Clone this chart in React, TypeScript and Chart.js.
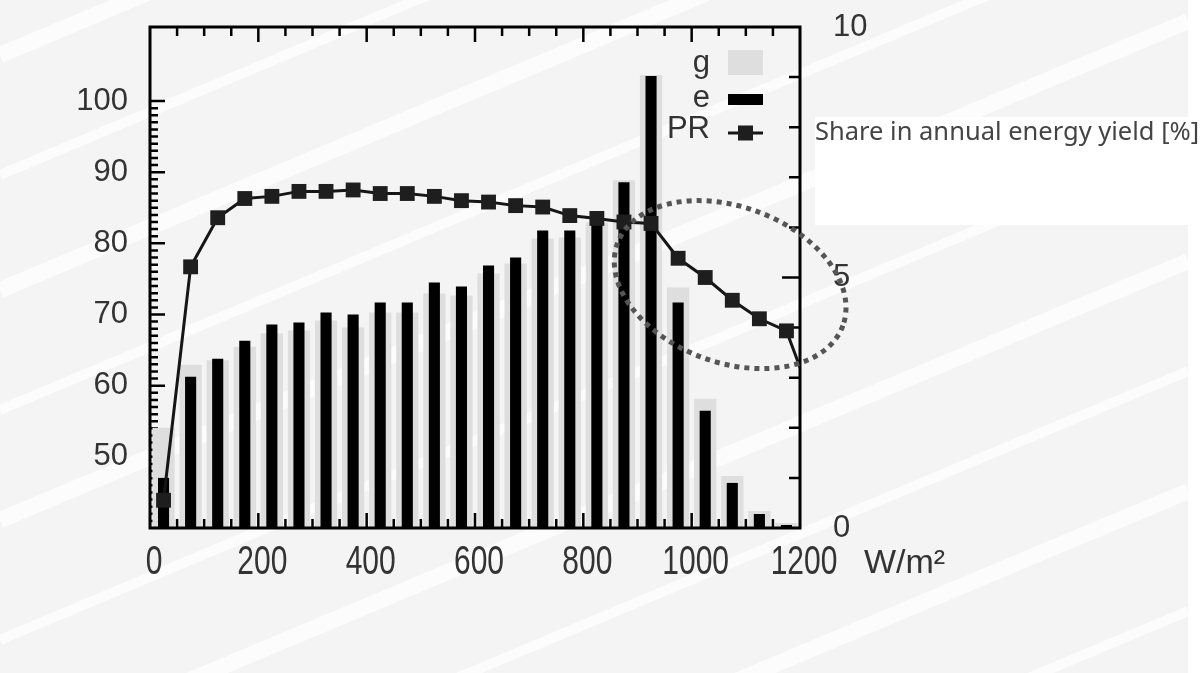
import React, { useEffect, useRef } from "react";
import { Chart, registerables } from "chart.js";

Chart.register(...registerables);

// ---- data ----
const binCenters = [25, 75, 125, 175, 225, 275, 325, 375, 425, 475, 525, 575, 625, 675, 725, 775, 825, 875, 925, 975, 1025, 1075, 1125, 1175];
const gShare = [2.0, 3.26, 3.35, 3.62, 3.88, 3.94, 4.14, 4.0, 4.3, 4.3, 4.68, 4.64, 5.08, 5.28, 5.78, 5.8, 6.1, 6.94, 9.04, 4.8, 2.58, 1.04, 0.34, 0.1];
const eShare = [1.0, 3.02, 3.38, 3.74, 4.06, 4.1, 4.3, 4.26, 4.5, 4.5, 4.9, 4.82, 5.24, 5.4, 5.94, 5.94, 6.2, 6.9, 9.02, 4.5, 2.34, 0.9, 0.28, 0.06];
const prX = [25, 75, 125, 175, 225, 275, 325, 375, 425, 475, 525, 575, 625, 675, 725, 775, 825, 875, 925, 975, 1025, 1075, 1125, 1175, 1225];
const prValues = [43.9, 76.7, 83.6, 86.3, 86.6, 87.3, 87.3, 87.5, 87.0, 87.0, 86.6, 86.0, 85.8, 85.3, 85.1, 83.9, 83.5, 83.0, 82.8, 77.9, 75.2, 72.0, 69.4, 67.7, 57.5];
const xTicks = [0, 200, 400, 600, 800, 1000, 1200];
const prTicks = [50, 60, 70, 80, 90, 100];
const shareTicks = [0, 5, 10];
const legendLabels = ["g", "e", "PR"];
const xUnit = "W/m²";
const shareTitle = "Share in annual energy yield [%]";
const highlight = { x: 1071, y: 74.2 };

const W = 1204;
const H = 673;

const decorPlugin = {
  id: "decor",
  beforeDraw(chart: any) {
    const ctx = chart.ctx;
    ctx.save();
    ctx.fillStyle = "#ffffff";
    ctx.fillRect(0, 0, W, H);
    ctx.fillStyle = "#f4f4f4";
    ctx.fillRect(0, 0, 1188, H);
    ctx.beginPath();
    ctx.rect(0, 0, 1188, H);
    ctx.clip();
    ctx.strokeStyle = "rgba(255,255,255,0.75)";
    const bands = [55, 175, 290, 410, 520, 640, 760, 870, 990, 1110];
    bands.forEach((b, i) => {
      ctx.lineWidth = i % 2 ? 10 : 16;
      ctx.beginPath();
      ctx.moveTo(0, b);
      ctx.lineTo(1188, b - 0.42 * 1188);
      ctx.stroke();
    });
    ctx.restore();
    ctx.save();
    ctx.fillStyle = "#ffffff";
    ctx.fillRect(815, 117, W - 815, 108);
    ctx.restore();
  },
  beforeDatasetsDraw(chart: any) {
    const ctx = chart.ctx;
    const a = chart.chartArea;
    const xs = chart.scales.x;
    const yl = chart.scales.y;
    const yr = chart.scales.y2;
    ctx.save();
    ctx.strokeStyle = "#000";
    ctx.lineWidth = 2.5;
    ctx.beginPath();
    for (let v = 50; v < 1200; v += 50) {
      const px = xs.getPixelForValue(v);
      const len = v % 200 === 0 ? 15 : 9;
      ctx.moveTo(px, a.bottom);
      ctx.lineTo(px, a.bottom - len);
      ctx.moveTo(px, a.top);
      ctx.lineTo(px, a.top + len);
    }
    for (let v = 41; v <= 100; v += 1) {
      const py = yl.getPixelForValue(v);
      const len = v % 10 === 0 ? 15 : 8;
      ctx.moveTo(a.left, py);
      ctx.lineTo(a.left + len, py);
    }
    for (let v = 1; v < 10; v += 1) {
      const py = yr.getPixelForValue(v);
      const len = v === 5 ? 18 : 11;
      ctx.moveTo(a.right, py);
      ctx.lineTo(a.right - len, py);
    }
    ctx.stroke();
    ctx.restore();
  },
  afterDatasetsDraw(chart: any) {
    const ctx = chart.ctx;
    const a = chart.chartArea;
    ctx.save();
    ctx.strokeStyle = "#000";
    ctx.lineWidth = 3;
    ctx.strokeRect(a.left, a.top, a.right - a.left, a.bottom - a.top);
    // dotted ellipse annotation
    const cx = chart.scales.x.getPixelForValue(highlight.x);
    const cy = chart.scales.y.getPixelForValue(highlight.y);
    ctx.strokeStyle = "#555";
    ctx.lineWidth = 5;
    ctx.setLineDash([5, 5]);
    ctx.beginPath();
    ctx.ellipse(cx, cy, 120, 78, (20 * Math.PI) / 180, 0, Math.PI * 2);
    ctx.stroke();
    ctx.restore();
  },
  afterDraw(chart: any) {
    const ctx = chart.ctx;
    const a = chart.chartArea;
    const xs = chart.scales.x;
    ctx.save();
    // x tick labels (taller glyphs, as in the original)
    ctx.fillStyle = "#333";
    ctx.textAlign = "center";
    ctx.textBaseline = "middle";
    ctx.font = "30px 'Liberation Sans'";
    xTicks.forEach((v) => {
      ctx.save();
      ctx.translate(xs.getPixelForValue(v) + 4, a.bottom + 35);
      ctx.scale(1, 1.36);
      ctx.fillText(String(v), 0, 0);
      ctx.restore();
    });
    // legend
    ctx.font = "31px 'Liberation Sans'";
    ctx.fillStyle = "#333";
    ctx.textAlign = "right";
    ctx.textBaseline = "middle";
    const rows = [63, 98, 129];
    legendLabels.forEach((t, i) => ctx.fillText(t, 710, rows[i]));
    ctx.fillStyle = "#dedede";
    ctx.fillRect(728, 50, 35, 25);
    ctx.fillStyle = "#000";
    ctx.fillRect(728, 94, 35, 11);
    ctx.strokeStyle = "#161616";
    ctx.lineWidth = 3;
    ctx.beginPath();
    ctx.moveTo(728, rows[2] + 4);
    ctx.lineTo(763, rows[2] + 4);
    ctx.stroke();
    ctx.fillStyle = "#1e1e1e";
    ctx.fillRect(738, rows[2] + 4 - 7.5, 15, 15);
    // unit label
    ctx.fillStyle = "#333";
    ctx.textAlign = "left";
    ctx.font = "34px 'Liberation Sans'";
    ctx.fillText(xUnit, 864, a.bottom + 36);
    // share title
    ctx.fillStyle = "#444";
    ctx.textBaseline = "alphabetic";
    ctx.font = "25.5px 'Noto Sans'";
    ctx.fillText(shareTitle, 815, 140);
    ctx.restore();
  },
};

export default function App() {
  const ref = useRef<HTMLCanvasElement | null>(null);
  useEffect(() => {
    document.body.style.margin = "0";
    const canvas = ref.current!;
    const tickFont = { family: "'Liberation Sans', Arial, sans-serif", size: 31 };
    const chart = new Chart(canvas, {
      type: "bar",
      data: {
        datasets: [
          {
            type: "line",
            label: "PR",
            data: prX.map((x, i) => ({ x, y: prValues[i] })),
            yAxisID: "y",
            borderColor: "#161616",
            borderWidth: 3,
            pointStyle: "rect",
            pointRadius: 10.5,
            pointBackgroundColor: "#1e1e1e",
            pointBorderWidth: 0,
            tension: 0,
            order: 0,
          } as any,
          {
            type: "bar",
            label: "e",
            data: binCenters.map((x, i) => ({ x, y: eShare[i] })),
            yAxisID: "y2",
            backgroundColor: "#000",
            barPercentage: 0.41,
            categoryPercentage: 1,
            grouped: false,
            order: 1,
          } as any,
          {
            type: "bar",
            label: "g",
            data: binCenters.map((x, i) => ({ x, y: gShare[i] })),
            yAxisID: "y2",
            backgroundColor: "#dedede",
            barPercentage: 0.82,
            categoryPercentage: 1,
            grouped: false,
            order: 2,
          } as any,
        ],
      },
      options: {
        responsive: false,
        animation: false,
        devicePixelRatio: 1,
        layout: { padding: { top: 27, left: 0, right: 0, bottom: 0 } },
        plugins: { legend: { display: false }, tooltip: { enabled: false } },
        scales: {
          x: {
            type: "linear",
            position: "bottom",
            min: 0,
            max: 1200,
            offset: false,
            grid: { display: false, drawTicks: false },
            border: { display: false },
            afterBuildTicks: (s: any) => {
              s.ticks = xTicks.map((v) => ({ value: v }));
            },
            afterFit: (s: any) => {
              s.height = H - 528;
              s.paddingLeft = 0;
              s.paddingRight = 0;
            },
            ticks: { display: false, autoSkip: false, maxRotation: 0 },
          },
          y: {
            type: "linear",
            position: "left",
            min: 40,
            max: 110.4,
            grid: { display: false, drawTicks: false },
            border: { display: false },
            afterBuildTicks: (s: any) => {
              s.ticks = prTicks.map((v) => ({ value: v }));
            },
            afterFit: (s: any) => {
              s.width = 150;
              s.paddingTop = 0;
              s.paddingBottom = 0;
            },
            ticks: { font: tickFont, color: "#333", padding: 22, callback: (v: any) => String(v) },
          },
          y2: {
            type: "linear",
            position: "right",
            min: 0,
            max: 10,
            grid: { display: false, drawTicks: false },
            border: { display: false },
            afterBuildTicks: (s: any) => {
              s.ticks = shareTicks.map((v) => ({ value: v }));
            },
            afterFit: (s: any) => {
              s.width = W - 800;
              s.paddingTop = 0;
              s.paddingBottom = 0;
            },
            ticks: { font: tickFont, color: "#333", padding: 33, callback: (v: any) => String(v) },
          },
        },
      },
      plugins: [decorPlugin],
    } as any);
    return () => chart.destroy();
  }, []);
  return (
    <div style={{ position: "absolute", left: 0, top: 0, width: W, height: H }}>
      <canvas ref={ref} width={W} height={H} style={{ display: "block", width: W, height: H }} />
    </div>
  );
}
